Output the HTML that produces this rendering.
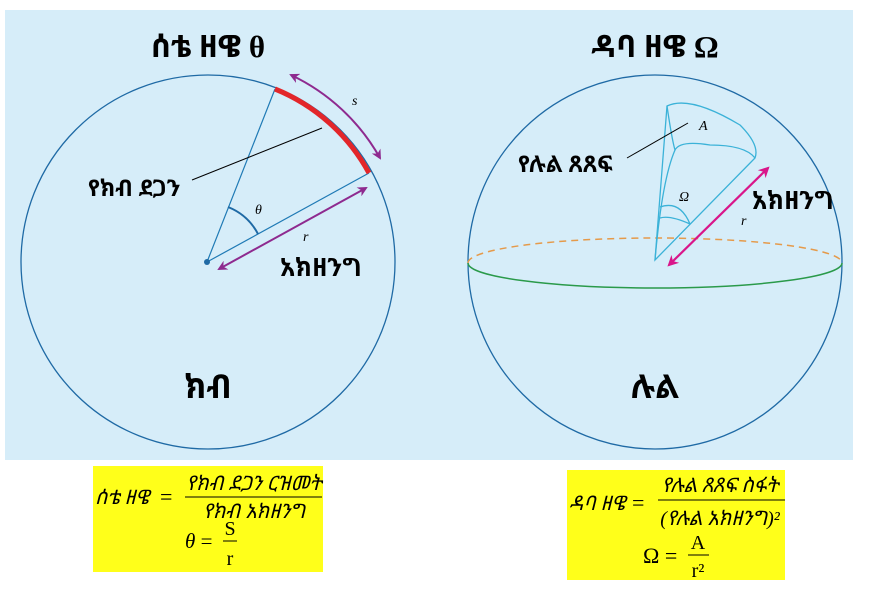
<!DOCTYPE html>
<html><head><meta charset="utf-8"><style>
body{margin:0;background:#fff;width:871px;height:596px;overflow:hidden}
svg{display:block}
.e{font-family:"Liberation Serif","Noto Sans Ethiopic","Abyssinica SIL",serif}
</style></head><body>
<svg width="871" height="596" viewBox="0 0 871 596" xmlns="http://www.w3.org/2000/svg">
<defs>
<marker id="pa" viewBox="0 0 10 10" refX="8" refY="5" markerWidth="5" markerHeight="5" orient="auto-start-reverse"><path d="M0,0 L10,5 L0,10 L3,5z" fill="#8e2a8f"/></marker>
<marker id="ma" viewBox="0 0 10 10" refX="8" refY="5" markerWidth="5" markerHeight="5" orient="auto-start-reverse"><path d="M0,0 L10,5 L0,10 L3,5z" fill="#d9168a"/></marker>
</defs>
<rect x="5" y="10" width="848" height="450" fill="#d6edf9"/>
<!-- left -->
<circle cx="208" cy="262" r="187" fill="none" stroke="#1f6aa5" stroke-width="1.3"/>
<line x1="207" y1="262" x2="275" y2="89" stroke="#1f7ab5" stroke-width="1.2"/>
<line x1="207" y1="262" x2="369" y2="173" stroke="#1f7ab5" stroke-width="1.2"/>
<path d="M275,89 A187,187 0 0 1 369,173" fill="none" stroke="#e3262a" stroke-width="5"/>
<path d="M291,75 A200,200 0 0 1 380,158" fill="none" stroke="#8e2a8f" stroke-width="2" marker-start="url(#pa)" marker-end="url(#pa)"/>
<line x1="219" y1="269" x2="366" y2="188" stroke="#8e2a8f" stroke-width="2" marker-start="url(#pa)" marker-end="url(#pa)"/>
<path d="M228,207 A58,58 0 0 1 258,234" fill="none" stroke="#1f6aa5" stroke-width="2"/>
<circle cx="207" cy="262" r="3" fill="#1f6aa5"/>
<line x1="192" y1="180" x2="322" y2="128" stroke="#000" stroke-width="1"/>
<text x="255" y="214" font-family="Liberation Serif" font-style="italic" font-size="14">θ</text>
<text x="352" y="105" font-family="Liberation Serif" font-style="italic" font-size="14">s</text>
<text x="303" y="241" font-family="Liberation Serif" font-style="italic" font-size="14">r</text>
<text x="208" y="57" text-anchor="middle" class="e" font-size="31" font-weight="bold">ሰቴ ዘዌ θ</text>
<text x="88" y="196" class="e" font-size="23" font-weight="bold">የክብ ደጋን</text>
<text x="280" y="276" class="e" font-size="25" font-weight="bold">አክዘንግ</text>
<text x="208" y="398" text-anchor="middle" class="e" font-size="33" font-weight="bold">ክብ</text>
<!-- right -->
<circle cx="655" cy="262" r="187" fill="none" stroke="#1f6aa5" stroke-width="1.3"/>
<path d="M468,263 A187,25 0 0 1 842,263" fill="none" stroke="#e59a4a" stroke-width="1.5" stroke-dasharray="7,5"/>
<path d="M468,263 A187,25 0 0 0 842,263" fill="none" stroke="#2a9a4a" stroke-width="1.5"/>
<g fill="none" stroke="#3bb2d8" stroke-width="1.3">
<path d="M655,260 L667,106 Q690,95 740,125 Q760,145 755,158 Z"/>
<path d="M667,106 Q672,140 675,150 Q680,140 710,145 Q745,145 755,158"/>
<path d="M655,260 Q662,180 675,150"/>
<path d="M660,207 Q680,200 690,224 M660,218 Q670,215 690,224"/>
</g>
<line x1="669" y1="265" x2="768" y2="168" stroke="#d9168a" stroke-width="2.2" marker-start="url(#ma)" marker-end="url(#ma)"/>
<line x1="627" y1="158" x2="688" y2="123" stroke="#000" stroke-width="1"/>
<text x="699" y="130" font-family="Liberation Serif" font-style="italic" font-size="14">A</text>
<text x="679" y="201" font-family="Liberation Serif" font-style="italic" font-size="14">Ω</text>
<text x="741" y="225" font-family="Liberation Serif" font-style="italic" font-size="14">r</text>
<text x="655" y="57" text-anchor="middle" class="e" font-size="31" font-weight="bold">ዳባ ዘዌ Ω</text>
<text x="518" y="172" class="e" font-size="23" font-weight="bold">የሉል ጸጸፍ</text>
<text x="752" y="209" class="e" font-size="25" font-weight="bold">አክዘንግ</text>
<text x="655" y="398" text-anchor="middle" class="e" font-size="33" font-weight="bold">ሉል</text>
<!-- formulas -->
<rect x="93" y="466" width="230" height="106" fill="#ffff1a"/>
<text x="95" y="504" class="e" font-size="20" font-style="italic">ሰቴ ዘዌ</text>
<text x="160" y="504" font-family="Liberation Serif" font-size="22">=</text>
<text x="254" y="490" text-anchor="middle" class="e" font-size="20" font-style="italic">የክብ ደጋን ርዝመት</text>
<line x1="185" y1="497" x2="322" y2="497" stroke="#000" stroke-width="1"/>
<text x="254" y="518" text-anchor="middle" class="e" font-size="20" font-style="italic">የክብ አክዘንግ</text>
<text x="185" y="548" font-family="Liberation Serif" font-size="21"><tspan font-style="italic">θ</tspan> =</text>
<text x="230" y="535" text-anchor="middle" font-family="Liberation Serif" font-size="20">S</text>
<line x1="223" y1="541" x2="237" y2="541" stroke="#000"/>
<text x="230" y="565" text-anchor="middle" font-family="Liberation Serif" font-size="20">r</text>
<rect x="567" y="470" width="218" height="110" fill="#ffff1a"/>
<text x="569" y="510" class="e" font-size="20" font-style="italic">ዳባ ዘዌ</text>
<text x="632" y="510" font-family="Liberation Serif" font-size="22">=</text>
<text x="720" y="492" text-anchor="middle" class="e" font-size="20" font-style="italic">የሉል ጸጸፍ ስፋት</text>
<line x1="658" y1="500" x2="785" y2="500" stroke="#000" stroke-width="1"/>
<text x="720" y="525" text-anchor="middle" class="e" font-size="20" font-style="italic">(የሉል አክዘንግ)²</text>
<text x="643" y="563" font-family="Liberation Serif" font-size="22">Ω =</text>
<text x="698" y="549" text-anchor="middle" font-family="Liberation Serif" font-size="20">A</text>
<line x1="688" y1="555" x2="709" y2="555" stroke="#000"/>
<text x="698" y="577" text-anchor="middle" font-family="Liberation Serif" font-size="20">r²</text>
</svg>
</body></html>
